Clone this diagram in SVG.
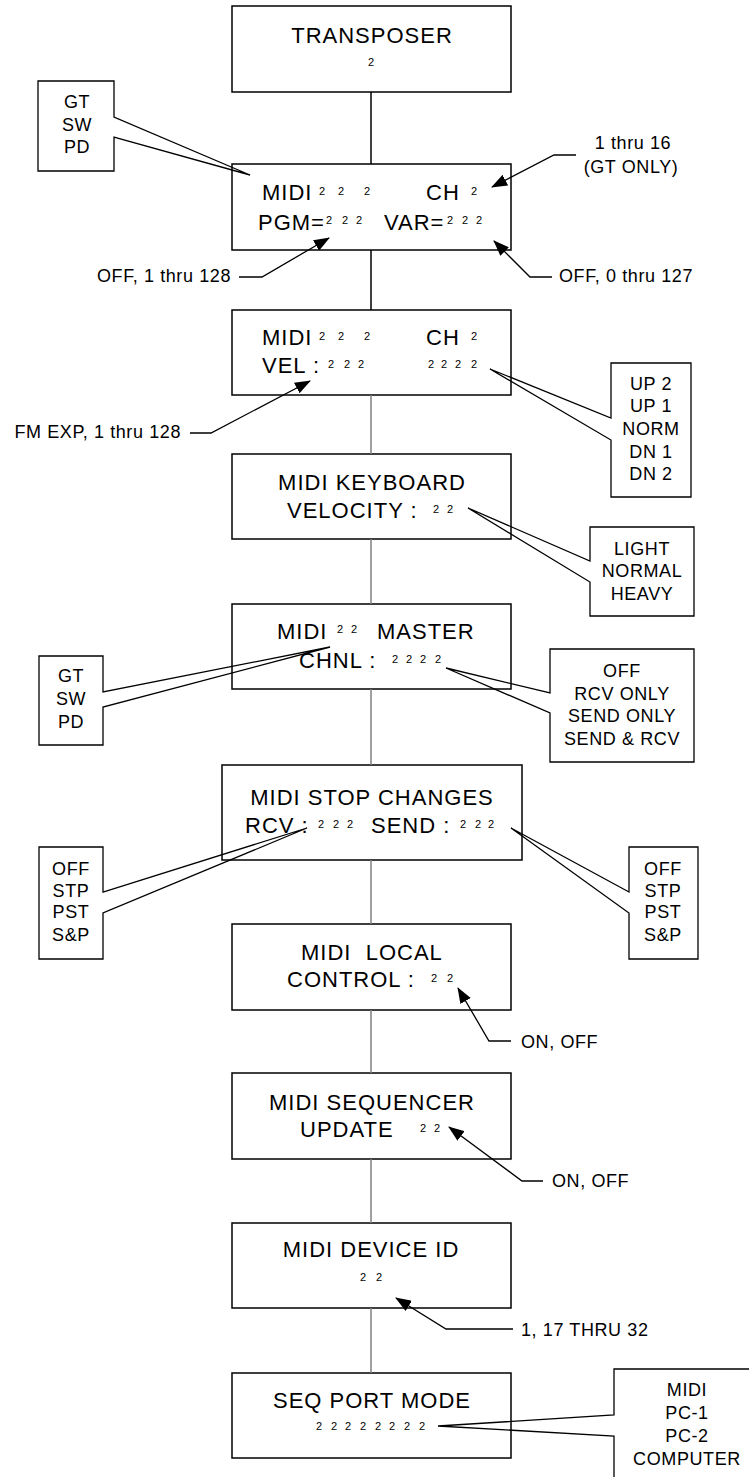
<svg xmlns="http://www.w3.org/2000/svg" width="749" height="1477" viewBox="0 0 749 1477">
<style>
text{font-family:"Liberation Sans",Arial,sans-serif;fill:#000}
.box{fill:#fff;stroke:#000;stroke-width:1.5}
.co{fill:none;stroke:#000;stroke-width:1.3}
.m{font-size:22px;letter-spacing:1px}
.s{font-size:18px;letter-spacing:0.6px}
.c{font-size:18px;letter-spacing:0.6px;text-anchor:middle}
.d{font-size:11px;text-anchor:middle}
.mid{text-anchor:middle}
.lk{stroke:#000;stroke-width:1.5;fill:none}
.lg{stroke:#808080;stroke-width:1.5;fill:none}
.ar{stroke:#000;stroke-width:1.3;fill:none;marker-end:url(#ah)}
</style>
<defs>
<marker id="ah" markerUnits="userSpaceOnUse" markerWidth="16" markerHeight="12" refX="15" refY="6" orient="auto">
<path d="M0,0 L16,6 L0,12 Z" fill="#000"/>
</marker>
</defs>
<rect width="749" height="1477" fill="#fff"/>

<g id="transposer">
<rect class="box" x="232" y="6" width="279" height="86"/>
<text class="m mid" x="372" y="43">TRANSPOSER</text>
<text class="d" x="371" y="66">2</text>
</g>

<g id="midi-pgm">
<rect class="box" x="232" y="164" width="279" height="86"/>
<text class="m" x="262" y="200">MIDI</text>
<text class="d" x="322" y="195">2</text><text class="d" x="341" y="195">2</text><text class="d" x="367" y="195">2</text>
<text class="m" x="426" y="200">CH</text>
<text class="d" x="474" y="195">2</text>
<text class="m" x="258" y="230">PGM=</text>
<text class="d" x="329" y="224">2</text><text class="d" x="345" y="224">2</text><text class="d" x="359" y="224">2</text>
<text class="m" x="384" y="230">VAR=</text>
<text class="d" x="450" y="224">2</text><text class="d" x="465" y="224">2</text><text class="d" x="479" y="224">2</text>
</g>

<g id="midi-vel">
<rect class="box" x="232" y="310" width="279" height="85"/>
<text class="m" x="262" y="345">MIDI</text>
<text class="d" x="322" y="340">2</text><text class="d" x="341" y="340">2</text><text class="d" x="367" y="340">2</text>
<text class="m" x="426" y="345">CH</text>
<text class="d" x="474" y="340">2</text>
<text class="m" x="262" y="373">VEL :</text>
<text class="d" x="331" y="368">2</text><text class="d" x="347" y="368">2</text><text class="d" x="361" y="368">2</text>
<text class="d" x="431" y="368">2</text><text class="d" x="444" y="368">2</text><text class="d" x="458" y="368">2</text><text class="d" x="474" y="368">2</text>
</g>

<g id="midi-keyboard">
<rect class="box" x="232" y="454" width="279" height="85"/>
<text class="m mid" x="372" y="490">MIDI KEYBOARD</text>
<text class="m" x="287" y="518">VELOCITY :</text>
<text class="d" x="436" y="513">2</text><text class="d" x="450" y="513">2</text>
</g>

<g id="midi-master">
<rect class="box" x="232" y="604" width="279" height="85"/>
<text class="m" x="277" y="639">MIDI</text>
<text class="d" x="340" y="633">2</text><text class="d" x="354" y="633">2</text>
<text class="m" x="377" y="639">MASTER</text>
<text class="m" x="299" y="668">CHNL :</text>
<text class="d" x="395" y="663">2</text><text class="d" x="409" y="663">2</text><text class="d" x="423" y="663">2</text><text class="d" x="438" y="663">2</text>
</g>

<g id="midi-stop">
<rect class="box" x="222" y="765" width="300" height="95"/>
<text class="m mid" x="372" y="805">MIDI STOP CHANGES</text>
<text class="m" x="245" y="833">RCV :</text>
<text class="d" x="321" y="828">2</text><text class="d" x="336" y="828">2</text><text class="d" x="350" y="828">2</text>
<text class="m" x="371" y="833">SEND :</text>
<text class="d" x="463" y="828">2</text><text class="d" x="478" y="828">2</text><text class="d" x="491" y="828">2</text>
</g>

<g id="midi-local">
<rect class="box" x="232" y="924" width="279" height="86"/>
<text class="m" x="301" y="960" xml:space="preserve">MIDI  LOCAL</text>
<text class="m" x="287" y="987">CONTROL :</text>
<text class="d" x="434" y="982">2</text><text class="d" x="450" y="982">2</text>
</g>

<g id="midi-sequencer">
<rect class="box" x="232" y="1073" width="279" height="86"/>
<text class="m mid" x="372" y="1110">MIDI SEQUENCER</text>
<text class="m" x="300" y="1137">UPDATE</text>
<text class="d" x="423" y="1132">2</text><text class="d" x="437" y="1132">2</text>
</g>

<g id="midi-device">
<rect class="box" x="232" y="1223" width="279" height="85"/>
<text class="m mid" x="371" y="1257">MIDI DEVICE ID</text>
<text class="d" x="363" y="1281">2</text><text class="d" x="379" y="1281">2</text>
</g>

<g id="seq-port">
<rect class="box" x="232" y="1373" width="279" height="85"/>
<text class="m mid" x="372" y="1408">SEQ PORT MODE</text>
<text class="d" x="319" y="1430">2</text><text class="d" x="334" y="1430">2</text><text class="d" x="348" y="1430">2</text><text class="d" x="363" y="1430">2</text><text class="d" x="378" y="1430">2</text><text class="d" x="392" y="1430">2</text><text class="d" x="407" y="1430">2</text><text class="d" x="422" y="1430">2</text>
</g>

<g id="callout-gt1">
<path class="co" d="M38,81 H114 V117 L250,175 L114,137 V171 H38 Z"/>
<text class="c" x="77" y="108">GT</text>
<text class="c" x="77" y="131">SW</text>
<text class="c" x="77" y="153">PD</text>
</g>

<g id="callout-up">
<path class="co" d="M611,363 H691 V497 H611 V440 L490,369 L611,418 Z"/>
<text class="c" x="651" y="390">UP 2</text>
<text class="c" x="651" y="412">UP 1</text>
<text class="c" x="651" y="435">NORM</text>
<text class="c" x="651" y="458">DN 1</text>
<text class="c" x="651" y="480">DN 2</text>
</g>

<g id="callout-light">
<path class="co" d="M590,527 H694 V616 H590 V582 L468,508 L590,561 Z"/>
<text class="c" x="642" y="555">LIGHT</text>
<text class="c" x="642" y="577">NORMAL</text>
<text class="c" x="642" y="600">HEAVY</text>
</g>

<g id="callout-gt2">
<path class="co" d="M39,656 H103 V692 L330,647 L103,707 V745 H39 Z"/>
<text class="c" x="71" y="682">GT</text>
<text class="c" x="71" y="705">SW</text>
<text class="c" x="71" y="728">PD</text>
</g>

<g id="callout-rcv">
<path class="co" d="M550,649 H694 V762 H550 V713 L446,668 L550,693 Z"/>
<text class="c" x="622" y="677">OFF</text>
<text class="c" x="622" y="700">RCV ONLY</text>
<text class="c" x="622" y="722">SEND ONLY</text>
<text class="c" x="622" y="745">SEND &amp; RCV</text>
</g>

<g id="callout-stp-left">
<path class="co" d="M39,847 H103 V892 L307,828 L103,913 V959 H39 Z"/>
<text class="c" x="71" y="875">OFF</text>
<text class="c" x="71" y="897">STP</text>
<text class="c" x="71" y="918">PST</text>
<text class="c" x="71" y="941">S&amp;P</text>
</g>

<g id="callout-stp-right">
<path class="co" d="M629,847 H698 V959 H629 V913 L511,828 L629,892 Z"/>
<text class="c" x="663" y="875">OFF</text>
<text class="c" x="663" y="897">STP</text>
<text class="c" x="663" y="918">PST</text>
<text class="c" x="663" y="941">S&amp;P</text>
</g>

<g id="callout-port">
<path class="co" d="M614,1369 H760 V1490 H614 V1436 L438,1426 L614,1415 Z"/>
<text class="c" x="687" y="1396">MIDI</text>
<text class="c" x="687" y="1419">PC-1</text>
<text class="c" x="687" y="1442">PC-2</text>
<text class="c" x="687" y="1465">COMPUTER</text>
</g>

<g id="labels">
<text class="c" x="633" y="149">1 thru 16</text>
<text class="c" x="631" y="173">(GT ONLY)</text>
<text class="s" x="231" y="282" text-anchor="end">OFF, 1 thru 128</text>
<text class="s" x="559" y="282">OFF, 0 thru 127</text>
<text class="s" x="181" y="438" text-anchor="end">FM EXP, 1 thru 128</text>
<text class="s" x="521" y="1048">ON, OFF</text>
<text class="s" x="552" y="1187">ON, OFF</text>
<text class="s" x="521" y="1336">1, 17 THRU 32</text>
</g>

<g id="connectors">
<line class="lk" x1="371" y1="92" x2="371" y2="164"/>
<line class="lk" x1="371" y1="250" x2="371" y2="310"/>
<line class="lg" x1="371" y1="395" x2="371" y2="454"/>
<line class="lg" x1="371" y1="539" x2="371" y2="604"/>
<line class="lg" x1="371" y1="689" x2="371" y2="765"/>
<line class="lg" x1="371" y1="860" x2="371" y2="924"/>
<line class="lg" x1="371" y1="1010" x2="371" y2="1073"/>
<line class="lg" x1="371" y1="1159" x2="371" y2="1223"/>
<line class="lg" x1="371" y1="1308" x2="371" y2="1373"/>
<path class="ar" d="M576,155 L554,155 L492,187"/>
<path class="ar" d="M239,277 L262,277 L329,238"/>
<path class="ar" d="M552,277 L530,277 L494,241"/>
<path class="ar" d="M190,433 L211,433 L310,381"/>
<path class="ar" d="M511,1041 L489,1041 L458,988"/>
<path class="ar" d="M543,1181 L522,1181 L449,1127"/>
<path class="ar" d="M513,1329 L446,1329 L396,1298"/>
</g>
</svg>
